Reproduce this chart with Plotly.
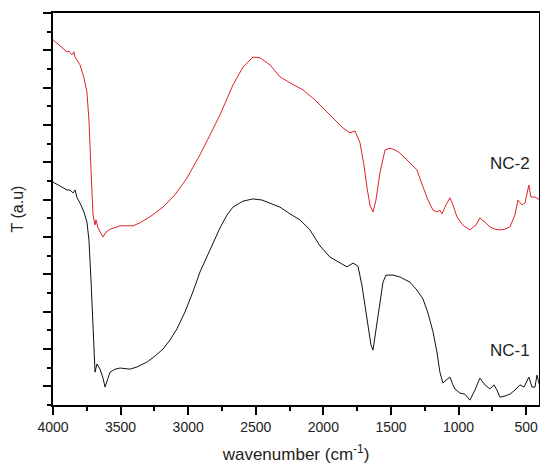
import plotly.graph_objects as go

# NC-2 (red) spectrum: wavenumber (cm^-1), transmittance (a.u.)
nc2_wn = [4000, 3948, 3896, 3882, 3860, 3845, 3837, 3800, 3771, 3749, 3734, 3719, 3704, 3689, 3682,
          3667, 3652, 3630, 3608, 3578, 3504, 3408, 3357, 3283, 3186, 3098, 3009, 2913, 2839, 2765,
          2669, 2595, 2521, 2469, 2395, 2321, 2247, 2151, 2062, 1951, 1855, 1803, 1766, 1729, 1700,
          1678, 1656, 1633, 1611, 1582, 1544, 1507, 1470, 1434, 1360, 1308, 1263, 1226, 1189, 1160,
          1138, 1123, 1093, 1064, 1042, 1012, 968, 916, 871, 842, 805, 768, 731, 694, 657, 620, 583,
          561, 531, 509, 480, 465, 435, 398]
nc2_t = [9.78, 9.62, 9.46, 9.48, 9.38, 9.46, 9.32, 9.11, 8.76, 8.38, 7.63, 6.30, 5.09, 4.82, 4.96,
         4.74, 4.63, 4.50, 4.63, 4.71, 4.80, 4.80, 4.88, 5.04, 5.30, 5.63, 6.08, 6.70, 7.23, 7.77,
         8.57, 9.05, 9.32, 9.30, 9.11, 8.79, 8.63, 8.44, 8.17, 7.77, 7.42, 7.29, 7.34, 7.02, 6.43,
         5.84, 5.36, 5.17, 5.49, 6.21, 6.83, 6.88, 6.83, 6.75, 6.48, 6.30, 5.84, 5.49, 5.22, 5.17,
         5.22, 5.12, 5.36, 5.55, 5.36, 5.04, 4.82, 4.69, 4.82, 5.01, 4.90, 4.77, 4.71, 4.69, 4.71,
         4.77, 5.09, 5.49, 5.36, 5.41, 5.89, 5.57, 5.57, 5.49]

# NC-1 (black) spectrum
nc1_wn = [4000, 3948, 3896, 3874, 3852, 3837, 3822, 3800, 3771, 3749, 3734, 3719, 3704, 3689, 3675,
          3652, 3630, 3615, 3593, 3578, 3541, 3504, 3430, 3378, 3305, 3246, 3186, 3135, 3083, 3024,
          2965, 2913, 2839, 2765, 2713, 2669, 2595, 2521, 2454, 2395, 2321, 2247, 2173, 2099, 2025,
          1951, 1877, 1825, 1781, 1744, 1715, 1693, 1670, 1648, 1633, 1611, 1582, 1559, 1537, 1485,
          1434, 1360, 1308, 1263, 1226, 1189, 1160, 1138, 1116, 1086, 1064, 1042, 1027, 990, 953,
          916, 879, 842, 805, 768, 738, 716, 694, 657, 620, 583, 546, 516, 480, 457, 435, 420, 398]
nc1_t = [5.97, 5.87, 5.76, 5.76, 5.68, 5.76, 5.55, 5.41, 5.17, 4.90, 4.42, 3.35, 2.01, 0.88, 1.10,
         0.96, 0.72, 0.48, 0.72, 0.88, 0.96, 0.99, 0.96, 1.02, 1.15, 1.31, 1.50, 1.74, 2.04, 2.49,
         3.03, 3.56, 4.15, 4.74, 5.09, 5.30, 5.46, 5.52, 5.49, 5.41, 5.30, 5.12, 4.96, 4.69, 4.26,
         3.96, 3.80, 3.70, 3.80, 3.72, 3.21, 2.68, 2.01, 1.61, 1.47, 2.01, 2.84, 3.29, 3.48, 3.48,
         3.43, 3.29, 3.08, 2.84, 2.46, 1.96, 1.42, 0.88, 0.59, 0.67, 0.75, 0.54, 0.43, 0.32, 0.29,
         0.13, 0.40, 0.72, 0.54, 0.43, 0.54, 0.40, 0.21, 0.24, 0.29, 0.40, 0.54, 0.48, 0.75, 0.48,
         0.48, 0.80, 0.48]

labels = ["NC-2", "NC-1"]
label_pos = [(620, 6.48), (620, 1.47)]

FONT = "Liberation Sans, Arial, sans-serif"

fig = go.Figure()
fig.add_trace(go.Scatter(x=nc2_wn, y=nc2_t, mode="lines", line=dict(color="#e3202a", width=1),
                         name=labels[0], showlegend=False))
fig.add_trace(go.Scatter(x=nc1_wn, y=nc1_t, mode="lines", line=dict(color="#111111", width=1),
                         name=labels[1], showlegend=False))

for lab, (lx, ly) in zip(labels, label_pos):
    fig.add_annotation(x=lx, y=ly, text=lab, showarrow=False,
                       font=dict(family=FONT, size=17, color="#222222"))

fig.update_layout(
    width=540, height=464,
    margin=dict(l=53, r=1, t=13, b=59),
    paper_bgcolor="white", plot_bgcolor="white",
    font=dict(family=FONT, color="#222222"),
    showlegend=False,
)
fig.update_xaxes(
    range=[4000, 405], showgrid=False, zeroline=False,
    showline=True, linecolor="black", linewidth=2, mirror=True,
    ticks="outside", ticklen=8, tickwidth=1.5, tickcolor="black",
    tick0=0, dtick=500, tickfont=dict(size=14, family=FONT),
    minor=dict(ticks="outside", ticklen=4, tickwidth=1.5, tickcolor="black", dtick=250, tick0=0),
    title=dict(text="wavenumber (cm<sup>-1</sup>)", font=dict(size=17, family=FONT), standoff=18),
    automargin=False,
)
fig.update_yaxes(
    range=[0, 10.5], showgrid=False, zeroline=False,
    showline=True, linecolor="black", linewidth=2, mirror=True,
    ticks="outside", ticklen=8, tickwidth=1.5, tickcolor="black",
    tick0=0.5, dtick=1, showticklabels=False,
    minor=dict(ticks="outside", ticklen=4, tickwidth=1.5, tickcolor="black", dtick=0.5, tick0=0),
    title=dict(text="T (a.u)", font=dict(size=16, family=FONT), standoff=15),
    automargin=False,
)

# remove the browser's default 8px body margin so the figure fills the window exactly
fig.write_html(
    "out.html",
    config={"displayModeBar": False},
    post_script="document.body.style.margin='0';document.body.style.overflow='hidden';",
)
